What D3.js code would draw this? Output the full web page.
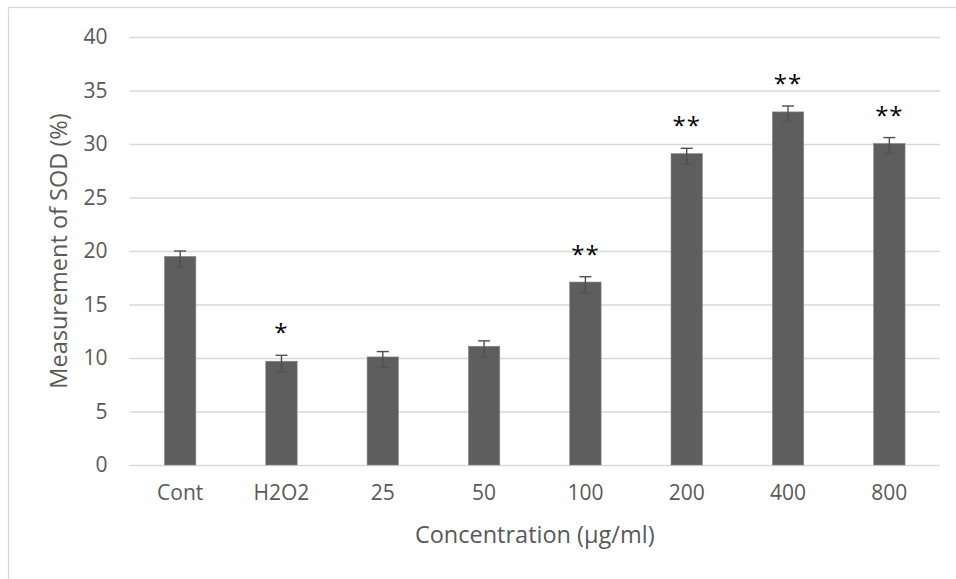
<!DOCTYPE html>
<html>
<head>
<meta charset="utf-8">
<script src="https://cdn.jsdelivr.net/npm/d3@7"></script>
<style>
  html, body { margin: 0; padding: 0; background: #fff; }
  svg { display: block; }
  text { font-family: "Open Sans", "Noto Sans", sans-serif; }
</style>
</head>
<body>
<div id="chart"></div>
<script>
// values
var categories = ["Cont", "H2O2", "25", "50", "100", "200", "400", "800"];
var sod = [19.5, 9.7, 10.1, 11.1, 17.1, 29.1, 33.0, 30.05];
var errUp = [0.5, 0.55, 0.5, 0.5, 0.5, 0.5, 0.55, 0.55];
var errDown = [1.0, 1.0, 1.0, 1.0, 1.0, 1.0, 0.9, 0.95];
var marks = ["", "*", "", "", "**", "**", "**", "**"];
var yTicks = [0, 5, 10, 15, 20, 25, 30, 35, 40];

var W = 956, H = 579;
// plot area (window.top is reserved, so no "top" var)
var plotL = 129.5, plotR = 940, plotT = 37, plotB = 465;

var svg = d3.select("#chart").append("svg")
    .attr("width", W).attr("height", H);

// chart frame (only left/top edges fall inside the picture)
svg.append("rect")
    .attr("x", 8.5).attr("y", 7.5)
    .attr("width", 1000).attr("height", 1000)
    .attr("fill", "none").attr("stroke", "#d9d9d9").attr("stroke-width", 1.3);

var x = d3.scaleBand().domain(categories).range([plotL, plotR]).paddingInner(0.69).paddingOuter(0.345);
var y = d3.scaleLinear().domain([0, 40]).range([plotB, plotT]);

// gridlines + y labels
var yAxis = svg.append("g")
    .attr("transform", "translate(" + plotL + ",0)")
    .call(d3.axisLeft(y).tickValues(yTicks).tickSize(-(plotR - plotL)).tickPadding(22));
yAxis.select(".domain").remove();
yAxis.selectAll("line").attr("stroke", "#d9d9d9").attr("stroke-width", 1.3);
yAxis.selectAll("text").attr("fill", "#595959").style("font-size", "21px");

// x labels
var xAxis = svg.append("g")
    .attr("transform", "translate(0," + plotB + ")")
    .call(d3.axisBottom(x).tickSize(0).tickPadding(20));
xAxis.select(".domain").remove();
xAxis.selectAll("text").attr("fill", "#595959").style("font-size", "21px");

var data = categories.map(function(c, i) {
    return {cat: c, v: sod[i], up: errUp[i], down: errDown[i], mark: marks[i]};
});

// bars
svg.append("g").selectAll("rect")
    .data(data)
    .enter().append("rect")
    .attr("x", function(d) { return x(d.cat); })
    .attr("y", function(d) { return y(d.v); })
    .attr("width", x.bandwidth())
    .attr("height", function(d) { return y(0) - y(d.v); })
    .attr("fill", "#5e5e5e")
    .attr("stroke", "#8a8a8a").attr("stroke-width", 0.6);

// error bars
var eb = svg.append("g").attr("stroke", "#4f4f4f").attr("stroke-width", 1.4);
data.forEach(function(d) {
    var cx = x(d.cat) + x.bandwidth() / 2;
    var y1 = y(d.v + d.up), y2 = y(d.v - d.down);
    eb.append("line").attr("x1", cx).attr("x2", cx).attr("y1", y1).attr("y2", y2);
    eb.append("line").attr("x1", cx - 6).attr("x2", cx + 6).attr("y1", y1).attr("y2", y1);
    eb.append("line").attr("x1", cx - 6).attr("x2", cx + 6).attr("y1", y2).attr("y2", y2)
        .attr("stroke", "#555");
});

// significance marks
svg.append("g").selectAll("text")
    .data(data.filter(function(d) { return d.mark; }))
    .enter().append("text")
    .attr("x", function(d) { return x(d.cat) + x.bandwidth() / 2; })
    .attr("y", function(d) { return y(d.v + d.up) - 14; })
    .attr("text-anchor", "middle")
    .attr("fill", "#000")
    .style("font-size", "24px")
    .style("letter-spacing", "1px")
    .text(function(d) { return d.mark; });

// axis titles
svg.append("text")
    .attr("x", (plotL + plotR) / 2).attr("y", 543)
    .attr("text-anchor", "middle")
    .attr("fill", "#595959").style("font-size", "23.5px")
    .text("Concentration (µg/ml)");

svg.append("text")
    .attr("transform", "translate(67,251) rotate(-90)")
    .attr("text-anchor", "middle")
    .attr("fill", "#595959").style("font-size", "23.5px")
    .text("Measurement of SOD (%)");
</script>
</body>
</html>
